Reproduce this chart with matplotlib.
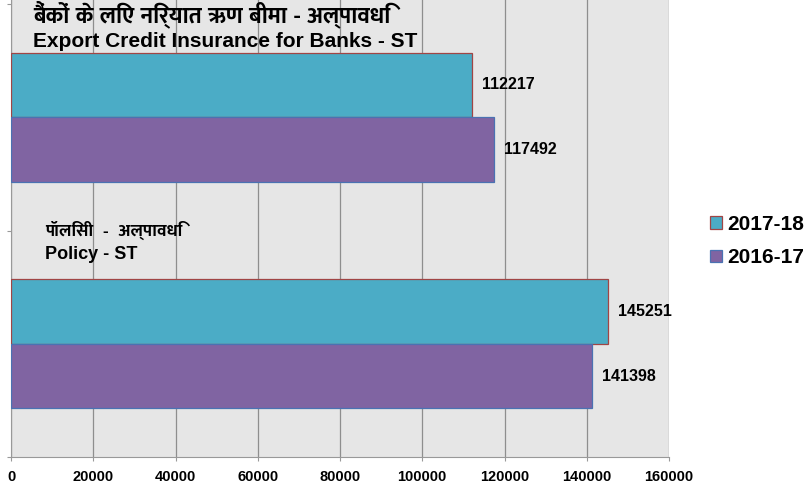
import matplotlib
matplotlib.use("Agg")
import matplotlib.pyplot as plt
from matplotlib import font_manager
from matplotlib.ft2font import FT2Font

categories = ["Banks", "Policy"]
labels_hi = ["बैंकों के लिए निर्यात ऋण बीमा - अल्पावधि", "पॉलिसी  -  अल्पावधि"]
labels_en = ["Export Credit Insurance for Banks - ST", "Policy - ST"]
series = ["2017-18", "2016-17"]
values_1718 = [112217, 145251]
values_1617 = [117492, 141398]
xticks = [0, 20000, 40000, 60000, 80000, 100000, 120000, 140000, 160000]

# find a Devanagari font that also has a bold face
deva_bold = set()
for f in font_manager.fontManager.ttflist:
    w = f.weight if isinstance(f.weight, int) else 400
    if w < 600:
        continue
    try:
        if 0x0915 in FT2Font(f.fname).get_charmap():
            deva_bold.add(f.name)
    except Exception:
        pass
prefer = ["Noto Sans Devanagari", "Mukta", "Hind", "Poppins", "Yantramanav",
          "Lohit Devanagari", "FreeSans"]
picked = [p for p in prefer if p in deva_bold] or sorted(deva_bold)[:1]
plt.rcParams["font.family"] = ["Liberation Sans"] + picked + ["DejaVu Sans"]

fig = plt.figure(figsize=(8.09, 4.86), dpi=100)
ax = fig.add_axes([11 / 809, 1 - 457 / 486, 658 / 809, 457 / 486])
ax.set_facecolor("#e6e6e6")

h = 0.285
centers = [0.5, 1.5]
ax.barh([c - h / 2 for c in centers], values_1718, height=h, color="#4bacc6",
        edgecolor="#a04545", linewidth=0.9, label=series[0], zorder=3)
ax.barh([c + h / 2 for c in centers], values_1617, height=h, color="#8064a2",
        edgecolor="#4a72b2", linewidth=0.9, label=series[1], zorder=3)

for c, v in zip(centers, values_1718):
    ax.text(v + 2400, c - h / 2, str(v), va="center", ha="left",
            fontsize=11.5, fontweight="bold", zorder=4)
for c, v in zip(centers, values_1617):
    ax.text(v + 2400, c + h / 2, str(v), va="center", ha="left",
            fontsize=11.5, fontweight="bold", zorder=4)

# category titles inside the plot
ax.text(5300, 0.082, labels_hi[0], fontsize=16.5, fontweight="bold", va="baseline", zorder=4)
ax.text(5300, 0.19, labels_en[0], fontsize=15, fontweight="bold", va="baseline", zorder=4)
ax.text(8200, 1.022, labels_hi[1], fontsize=12.5, fontweight="bold", va="baseline", zorder=4)
ax.text(8200, 1.126, labels_en[1], fontsize=13, fontweight="bold", va="baseline", zorder=4)

ax.set_xlim(0, 160000)
ax.set_ylim(2, -0.0177)
ax.set_xticks(xticks)
ax.set_xticklabels([str(t) for t in xticks], fontsize=10.5, fontweight="bold")
ax.set_yticks([0, 1, 2])
ax.set_yticklabels([])
ax.xaxis.grid(True, color="#8e8e8e", linewidth=0.9, zorder=0)
ax.set_axisbelow(True)
ax.tick_params(axis="x", length=3, color="#999999", pad=6)
ax.tick_params(axis="y", length=3, color="#999999")
for s in ["top", "right"]:
    ax.spines[s].set_visible(False)
for s in ["left", "bottom"]:
    ax.spines[s].set_color("#999999")

fig.legend(*ax.get_legend_handles_labels(), loc="center left",
           bbox_to_anchor=(700 / 809, 1 - 241 / 486), frameon=False, borderpad=0,
           prop={"size": 15, "weight": "bold"}, handlelength=0.55,
           handleheight=0.55, handletextpad=0.25, labelspacing=0.7)

fig.savefig("out.png", dpi=100)
